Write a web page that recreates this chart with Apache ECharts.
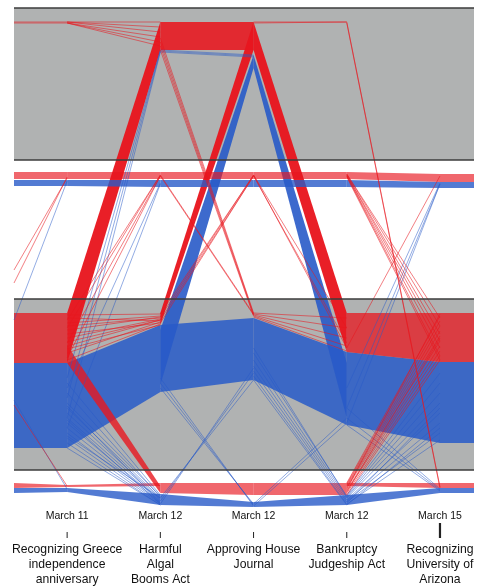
<!DOCTYPE html>
<html><head><meta charset="utf-8">
<script src="https://cdn.jsdelivr.net/npm/echarts@6/dist/echarts.min.js"></script>
<style>html,body{margin:0;padding:0;background:#fff;}#c{width:479px;height:588px;}</style>
</head><body><div id="c"></div>
<script>
// ---- data ----
const voteDates = ['March 11', 'March 12', 'March 12', 'March 12', 'March 15'];
const voteTitles = ['Recognizing Greece\nindependence\nanniversary', 'Harmful\nAlgal\nBooms Act',
  'Approving House\nJournal', 'Bankruptcy\nJudgeship Act', 'Recognizing\nUniversity of\nArizona'];
// x stops: cut-off previous vote, the five votes, cut-off next vote
const stops = [-0.57, 0, 1, 2, 3, 4, 4.365];
// vote-position bands (member position units, 0 = top)
const grayBands = [[0, 152], [291, 462]];
const bandRules = [0, 152, 291, 462];
// bundles of members: [segment, fromLo, fromHi, toLo, toHi, kind]
// kind: w = spread band (white zone), g = spread band (gray zone), s = compressed stream, m = medium stream, d = dense band
const redFlows = [
  [0, 164, 171, 164, 171, 'w'], [0, 305, 355, 305, 355, 'g'], [0, 475, 480, 477, 479, 'w'],
  [1, 305, 355, 14, 42, 's'], [1, 337, 355, 478, 485, 'm'], [1, 164, 171, 164, 171, 'w'], [1, 477, 479, 475, 478, 'w'],
  [2, 14, 42, 14, 42, 'd'], [2, 305, 317, 14, 42, 's'], [2, 164, 171, 164, 171, 'w'], [2, 475, 485, 475, 487, 'w'],
  [3, 14, 42, 305, 344, 's'], [3, 164, 171, 164, 171, 'w'], [3, 475, 487, 475, 487, 'w'],
  [4, 305, 344, 305, 354, 'g'], [4, 164, 171, 166, 174, 'w'], [4, 475, 478, 475, 480, 'w'],
  [5, 305, 354, 305, 354, 'g'], [5, 166, 174, 166, 174, 'w'], [5, 475, 480, 475, 480, 'w']
];
const blueFlows = [
  [0, 172, 178, 172, 178, 'w'], [0, 355, 440, 355, 440, 'g'], [0, 480, 485, 480, 484, 'w'],
  [1, 355, 440, 317, 384, 'g'], [1, 172, 178, 172, 179, 'w'], [1, 480, 484, 486, 497, 'w'],
  [2, 317, 384, 310, 372, 'g'], [2, 322, 377, 47, 60, 's'], [2, 172, 179, 172, 179, 'w'], [2, 486, 497, 494, 499, 'w'],
  [3, 310, 372, 344, 417, 'g'], [3, 47, 60, 355, 410, 's'], [3, 172, 179, 172, 179, 'w'], [3, 494, 499, 487, 497, 'w'],
  [4, 344, 417, 354, 435, 'g'], [4, 172, 179, 174, 180, 'w'], [4, 487, 497, 480, 485, 'w'],
  [5, 354, 435, 354, 435, 'g'], [5, 174, 180, 174, 180, 'w'], [5, 480, 485, 480, 485, 'w']
];
// single members that switch: [segment, from, to]
const redLines = [
  [0, 14, 14], [0, 15, 15], [0, 262, 170], [0, 275, 169], [0, 397, 478],
  [1, 14, 14], [1, 14, 19], [1, 14, 24], [1, 15, 29], [1, 15, 34], [1, 15, 38],
  [1, 307, 306], [1, 315, 308], [1, 322, 309], [1, 330, 311], [1, 338, 312], [1, 345, 314], [1, 352, 316],
  [1, 310, 313], [1, 326, 315], [1, 341, 317], [1, 318, 310], [1, 334, 312],
  [1, 320, 167], [1, 335, 168], [1, 350, 168], [1, 312, 167],
  [2, 30, 305], [2, 34, 306], [2, 38, 307], [2, 42, 308],
  [2, 306, 167], [2, 309, 167], [2, 312, 168], [2, 315, 168], [2, 167, 306], [2, 168, 307],
  [3, 14, 14], [3, 15, 14], [3, 305, 310], [3, 306, 320], [3, 307, 330], [3, 308, 338], [3, 309, 343],
  [3, 167, 320], [3, 168, 335], [3, 167, 340],
  [4, 14, 479], [4, 15, 480],
  [4, 166, 310], [4, 166, 318], [4, 167, 326], [4, 167, 333], [4, 168, 340], [4, 168, 348], [4, 169, 352],
  [4, 475, 308], [4, 476, 313], [4, 477, 318], [4, 478, 323], [4, 479, 328], [4, 480, 333], [4, 482, 338],
  [4, 483, 343], [4, 485, 348], [4, 487, 352], [4, 481, 306], [4, 484, 330], [4, 340, 168]
];
const blueLines = [
  [0, 312, 173], [0, 392, 481],
  [1, 370, 42], [1, 390, 43], [1, 410, 44], [1, 380, 175], [1, 420, 176],
  [1, 375, 487], [1, 385, 489], [1, 395, 488], [1, 400, 490], [1, 405, 491], [1, 410, 492], [1, 415, 493],
  [1, 420, 494], [1, 425, 495], [1, 430, 496], [1, 435, 497], [1, 440, 497], [1, 398, 495], [1, 412, 496], [1, 428, 490],
  [2, 42, 47], [2, 43, 48], [2, 44, 49],
  [2, 490, 372], [2, 493, 365], [2, 496, 360], [2, 380, 496], [2, 375, 497], [2, 370, 498],
  [3, 340, 489], [3, 345, 488], [3, 352, 490], [3, 358, 492], [3, 363, 494], [3, 368, 496], [3, 372, 497],
  [3, 496, 410], [3, 498, 415],
  [4, 380, 175], [4, 400, 176], [4, 415, 176], [4, 400, 481], [4, 410, 482], [4, 417, 483],
  [4, 487, 365], [4, 488, 375], [4, 489, 385], [4, 490, 395], [4, 492, 405], [4, 493, 415], [4, 494, 425],
  [4, 496, 432], [4, 497, 420], [4, 495, 400]
];

// ---- styles ----
const RED = '232,22,30', BLUE = '40,90,200';
const redAlpha = { w: 0.65, g: 0.75, s: 0.96, m: 0.8, d: 0.88 };
const blueAlpha = { w: 0.8, g: 0.85, s: 0.9, m: 0.85, d: 0.9 };
const X0 = stops[0], X1 = stops[stops.length - 1];
const FONT = '"Liberation Sans", Arial, Helvetica, sans-serif';

function flowSeries(list, rgb, alphas, filter, z) {
  const items = list.filter(filter);
  return {
    type: 'custom', coordinateSystem: 'cartesian2d', z: z, silent: true, clip: false,
    data: items.map(f => [stops[f[0]], f[1], stops[f[0] + 1], f[3]]),
    encode: { x: [0, 2], y: [1, 3] },
    renderItem: function (params, api) {
      const f = items[params.dataIndex];
      const xa = stops[f[0]], xb = stops[f[0] + 1];
      const pts = [api.coord([xa, f[1]]), api.coord([xa, f[2]]), api.coord([xb, f[4]]), api.coord([xb, f[3]])];
      return { type: 'polygon', shape: { points: pts }, style: { fill: 'rgba(' + rgb + ',' + alphas[f[5]] + ')' } };
    }
  };
}
function lineSeries(list, rgb, alpha, z) {
  return {
    type: 'custom', coordinateSystem: 'cartesian2d', z: z, silent: true, clip: false,
    data: list.map(l => [stops[l[0]], l[1], stops[l[0] + 1], l[2]]),
    encode: { x: [0, 2], y: [1, 3] },
    renderItem: function (params, api) {
      const a = api.coord([api.value(0), api.value(1)]);
      const b = api.coord([api.value(2), api.value(3)]);
      return { type: 'line', shape: { x1: a[0], y1: a[1], x2: b[0], y2: b[1] },
        style: { stroke: 'rgba(' + rgb + ',' + alpha + ')', lineWidth: 1 } };
    }
  };
}

const chart = echarts.init(document.getElementById('c'));
chart.setOption({
  animation: false,
  backgroundColor: '#ffffff',
  grid: { left: 14, right: 5, top: 8, bottom: 80 },
  xAxis: { type: 'value', min: X0, max: X1, show: false },
  yAxis: { type: 'value', min: 0, max: 500, inverse: true, show: false },
  series: [
    { // gray vote bands
      type: 'custom', coordinateSystem: 'cartesian2d', z: 1, silent: true,
      data: grayBands.map(b => [X0, b[0], X1, b[1]]), encode: { x: [0, 2], y: [1, 3] },
      renderItem: function (params, api) {
        const a = api.coord([api.value(0), api.value(1)]);
        const b = api.coord([api.value(2), api.value(3)]);
        return { type: 'rect', shape: { x: a[0], y: a[1], width: b[0] - a[0], height: b[1] - a[1] },
          style: { fill: '#b0b2b2' } };
      }
    },
    flowSeries(blueFlows, BLUE, blueAlpha, f => f[5] !== 'w', 2),
    flowSeries(redFlows, RED, redAlpha, f => true, 3),
    flowSeries(blueFlows, BLUE, blueAlpha, f => f[5] === 'w', 4),
    lineSeries(blueLines, BLUE, 0.5, 5),
    lineSeries(redLines, RED, 0.55, 6),
    { // band rules
      type: 'custom', coordinateSystem: 'cartesian2d', z: 7, silent: true,
      data: bandRules.map(v => [X0, v, X1, v]), encode: { x: [0, 2], y: [1, 3] },
      renderItem: function (params, api) {
        const a = api.coord([api.value(0), api.value(1)]);
        const b = api.coord([api.value(2), api.value(3)]);
        return { type: 'line', shape: { x1: a[0], y1: a[1], x2: b[0], y2: b[1] },
          style: { stroke: '#3b3b3b', lineWidth: 1.3 } };
      }
    },
    { // vote labels
      type: 'custom', coordinateSystem: 'cartesian2d', z: 8, silent: true, clip: false,
      data: voteDates.map((d, i) => [stops[i + 1], 500]), encode: { x: 0, y: 1 },
      renderItem: function (params, api) {
        const p = api.coord([api.value(0), api.value(1)]);
        const i = params.dataIndex;
        const longTick = i === 4;
        return { type: 'group', children: [
          { type: 'text', style: { x: p[0], y: p[1] + 8, text: voteDates[i], fill: '#111', font: '10.5px ' + FONT,
            align: 'center', verticalAlign: 'middle' } },
          { type: 'line', shape: { x1: p[0], y1: p[1] + (longTick ? 15 : 24), x2: p[0], y2: p[1] + 30 },
            style: { stroke: '#222', lineWidth: longTick ? 2.2 : 1 } },
          { type: 'text', style: { x: p[0], y: p[1] + 34.5, text: voteTitles[i], fill: '#111', font: '12.2px ' + FONT,
            align: 'center', verticalAlign: 'top', lineHeight: 15 } }
        ] };
      }
    }
  ]
});
</script></body></html>
